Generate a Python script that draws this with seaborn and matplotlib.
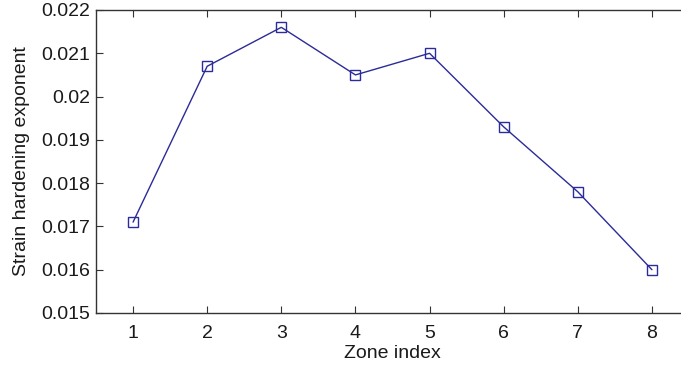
import matplotlib
matplotlib.use("Agg")
import matplotlib.pyplot as plt
import seaborn as sns
import pandas as pd

# Strain hardening exponent per zone
zones = [1, 2, 3, 4, 5, 6, 7, 8]
exponent = [0.0171, 0.0207, 0.0216, 0.0205, 0.0210, 0.0193, 0.0178, 0.0160]
y_ticks = [0.015, 0.016, 0.017, 0.018, 0.019, 0.02, 0.021, 0.022]
y_tick_labels = ["0.015", "0.016", "0.017", "0.018", "0.019", "0.02", "0.021", "0.022"]

df = pd.DataFrame({"zone": zones, "n": exponent})

sns.set_style("ticks")
plt.rcParams["font.family"] = ["Liberation Sans", "DejaVu Sans"]

fig = plt.figure(figsize=(6.81, 3.69), dpi=100)
W, H = 681, 369
left, right, top, bottom = 96, 689, 10, 313
ax = fig.add_axes([left / W, 1 - bottom / H, (right - left) / W, (bottom - top) / H])

line_color = "#2B2B9A"
sns.lineplot(data=df, x="zone", y="n", ax=ax, color=line_color, linewidth=1.0,
             marker="s", markersize=6.5, markerfacecolor="none",
             markeredgecolor=line_color, markeredgewidth=1.0)

ax.set_xlim(0.5, 8.5)
ax.set_ylim(0.015, 0.022)
ax.set_xticks(zones)
ax.set_xticklabels([str(z) for z in zones])
ax.set_yticks(y_ticks)
ax.set_yticklabels(y_tick_labels)

for s in ax.spines.values():
    s.set_color("#333333")
    s.set_linewidth(1.0)

ax.tick_params(direction="in", length=5, width=0.8, colors="#333333",
               labelcolor="#1a1a1a", labelsize=14, top=True, right=True)
ax.tick_params(axis="y", pad=4)
ax.tick_params(axis="x", pad=9)
ax.set_xlabel("Zone index", fontsize=14, labelpad=2, color="#1a1a1a")
ax.set_ylabel("Strain hardening exponent", fontsize=14, labelpad=8, color="#1a1a1a")

fig.savefig("out.png", dpi=100)
